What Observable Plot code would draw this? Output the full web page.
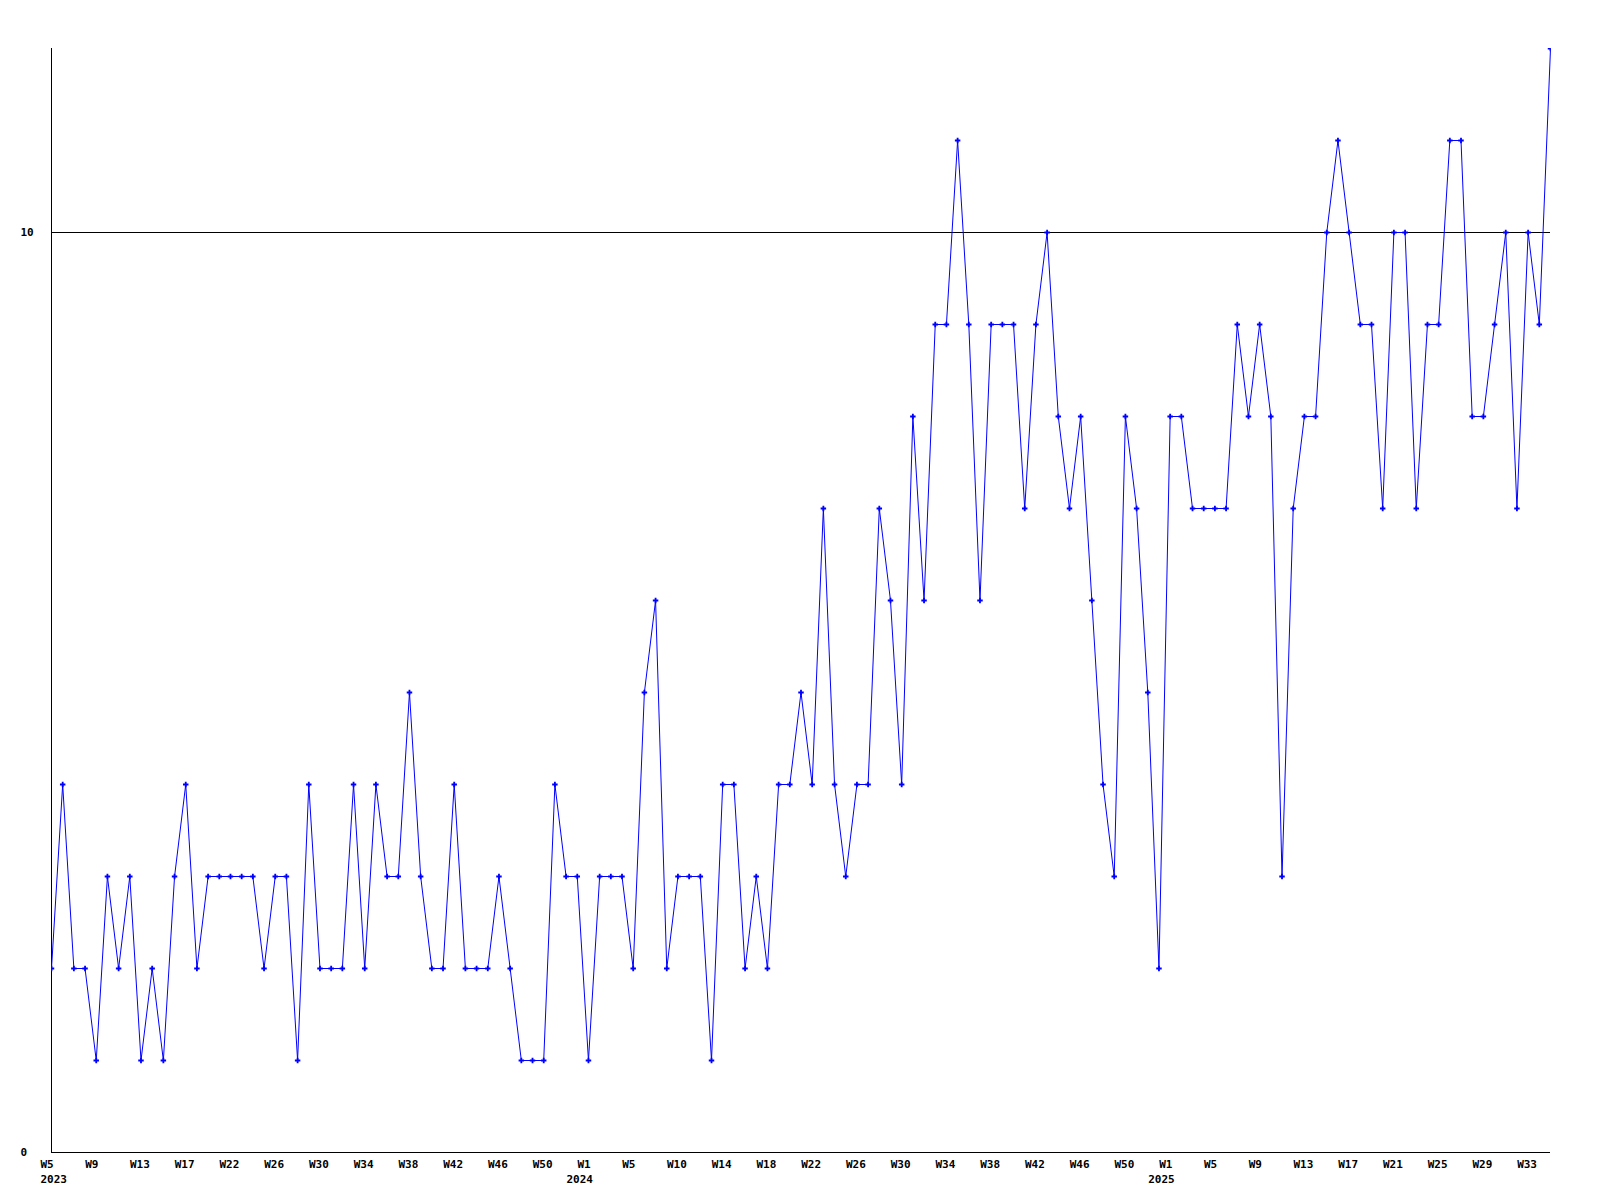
<!DOCTYPE html>
<html>
<head>
<meta charset="utf-8">
<script src="https://cdn.jsdelivr.net/npm/d3@7"></script>
<script src="https://cdn.jsdelivr.net/npm/@observablehq/plot@0.6"></script>
<style>
  html, body { margin: 0; padding: 0; background: #fff; }
  #chart svg { display: block; }
</style>
</head>
<body>
<div id="chart"></div>
<script>
// Weekly values, 2023 W5 onward (one value per week)
const values = [
  2,4,2,2,1,3,2,3,1,2,
  1,3,4,2,3,3,3,3,3,2,
  3,3,1,4,2,2,2,4,2,4,
  3,3,5,3,2,2,4,2,2,2,
  3,2,1,1,1,4,3,3,1,3,
  3,3,2,5,6,2,3,3,3,1,
  4,4,2,3,2,4,4,5,4,7,
  4,3,4,4,7,6,4,8,6,9,
  9,11,9,6,9,9,9,7,9,10,
  8,7,8,6,4,3,8,7,5,2,
  8,8,7,7,7,7,9,8,9,8,
  3,7,8,8,10,11,10,9,9,7,
  10,10,7,9,9,11,11,8,8,9,
  10,7,10,9,12
];
// Tick labels shown every 4th week
const weekLabels = ["W5","W9","W13","W17","W22","W26","W30","W34","W38","W42","W46","W50",
  "W1","W5","W10","W14","W18","W22","W26","W30","W34","W38","W42","W46","W50",
  "W1","W5","W9","W13","W17","W21","W25","W29","W33"];
const yearLabels = ["2023","2024","2025"];
const yearTickIndex = [0, 48, 100];
const yTicks = [0, 10];
const refLine = [10];

const data = values.map((v, i) => ({i, v}));
const weekTicks = weekLabels.map((_, k) => k * 4);

const font = "'DejaVu Sans Mono', monospace";
const chart = Plot.plot({
  width: 1600,
  height: 1200,
  marginLeft: 51,
  marginRight: 50,
  marginTop: 48,
  marginBottom: 48,
  style: {fontFamily: font, fontSize: "11px", fontWeight: "bold", background: "#fff", color: "#000"},
  x: {domain: [0, values.length - 1], axis: null},
  y: {domain: [0, 12], axis: null},
  marks: [
    Plot.ruleY(refLine, {stroke: "#000", strokeWidth: 1}),
    Plot.ruleY([0], {stroke: "#000", strokeWidth: 1}),
    Plot.ruleX([0], {stroke: "#000", strokeWidth: 1}),
    Plot.axisY({ticks: yTicks, label: null, tickSize: 0, tickPadding: 31, textAnchor: "start", tickFormat: d => String(d), fill: "#000"}),
    Plot.axisX({ticks: weekTicks, label: null, tickSize: 0, tickPadding: 8, textAnchor: "start", dx: -11,
      tickFormat: d => weekLabels[d / 4], fill: "#000"}),
    Plot.axisX({ticks: [yearTickIndex[0]], label: null, tickSize: 0, tickPadding: 23, textAnchor: "start", dx: -11,
      tickFormat: d => yearLabels[yearTickIndex.indexOf(d)], fill: "#000"}),
    Plot.axisX({ticks: yearTickIndex.slice(1), label: null, tickSize: 0, tickPadding: 23, textAnchor: "start", dx: -22,
      tickFormat: d => yearLabels[yearTickIndex.indexOf(d)], fill: "#000"}),
    Plot.line(data, {x: "i", y: "v", stroke: "#0000ff", strokeWidth: 1}),
    Plot.dot(data, {x: "i", y: "v", symbol: "cross", r: 2.3, fill: "#0000ff", stroke: null, clip: true})
  ]
});
document.getElementById("chart").append(chart);
</script>
</body>
</html>
